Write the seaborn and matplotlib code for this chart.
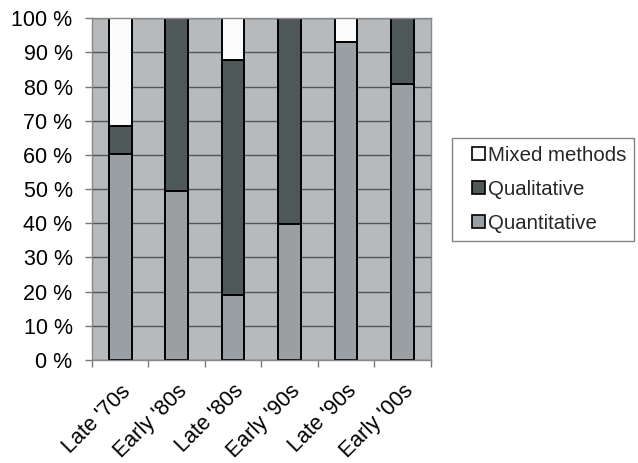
import matplotlib
matplotlib.use("Agg")
import matplotlib.pyplot as plt
import matplotlib.transforms as mtransforms
import seaborn as sns
import numpy as np
import pandas as pd
from matplotlib.patches import Patch, Rectangle
from matplotlib.legend_handler import HandlerPatch
from matplotlib.ticker import FixedLocator

categories = ["Late '70s", "Early '80s", "Late '80s", "Early '90s", "Late '90s", "Early '00s"]
quantitative = [60.2, 49.5, 19.0, 39.7, 93.2, 80.8]
qualitative = [8.4, 50.5, 68.7, 60.3, 0.0, 19.2]
mixed = [31.4, 0.0, 12.3, 0.0, 6.8, 0.0]
series_names = ["Mixed methods", "Qualitative", "Quantitative"]
y_ticks = [0, 10, 20, 30, 40, 50, 60, 70, 80, 90, 100]

sns.set_theme(style="white")
plt.rcParams["font.family"] = ["Liberation Sans", "DejaVu Sans"]

c_quant = "#999fa2"
c_qual = "#4f5858"
c_mixed = "#fbfbfb"
c_bg = "#b6babc"

df = pd.DataFrame({
    "cat": categories,
    "quant": quantitative,
    "qual": qualitative,
    "mixed": mixed,
})
df["top_qual"] = df["quant"] + df["qual"]
df["top_all"] = df["top_qual"] + df["mixed"]

fig = plt.figure(figsize=(6.38, 4.63), dpi=100)
ax = fig.add_axes([0.1442, 0.2225, 0.675 - 0.1442, 0.9605 - 0.2225])
ax.set_facecolor(c_bg)

for y in y_ticks:
    ax.axhline(y, color="#555555", lw=1.0, zorder=0.5)

common = dict(data=df, x="cat", width=0.4, edgecolor="black", linewidth=1.4, ax=ax, zorder=2)
sns.barplot(y="top_all", color=c_mixed, **common)
sns.barplot(y="top_qual", color=c_qual, **common)
sns.barplot(y="quant", color=c_quant, **common)

for i, p in enumerate(ax.patches):
    grp = i // len(categories)
    p.set_facecolor([c_mixed, c_qual, c_quant][grp])

ax.set_xlim(-0.5, len(categories) - 0.5)
ax.set_ylim(0, 100)
ax.set_yticks(y_ticks)
ax.set_yticklabels([f"{v} %" for v in y_ticks], fontsize=15.5, color="black")
ax.set_xlabel("")
ax.set_ylabel("")
ax.set_xticks(range(len(categories)))
ax.set_xticklabels(categories, rotation=45, ha="right", rotation_mode="anchor",
                   fontsize=15.5, color="black")
offset = mtransforms.ScaledTranslation(6 / 100, 0, fig.dpi_scale_trans)
for lab in ax.get_xticklabels():
    lab.set_transform(lab.get_transform() + offset)
ax.xaxis.set_minor_locator(FixedLocator(np.arange(-0.5, len(categories), 1.0)))
ax.tick_params(axis="x", which="major", length=0, pad=15)
ax.tick_params(axis="x", which="minor", length=5, width=1, color="#777777", bottom=True)
ax.tick_params(axis="y", which="major", length=5, width=1, color="#777777", left=True, pad=9)

for s in ax.spines.values():
    s.set_color("#888888")
    s.set_linewidth(1.0)


class SquareRight(HandlerPatch):
    def create_artists(self, legend, orig_handle, xdescent, ydescent, width, height, fontsize, trans):
        side = height
        r = Rectangle((-xdescent + width - side, -ydescent), side, side,
                      facecolor=orig_handle.get_facecolor(), edgecolor="black", linewidth=1.2)
        r.set_transform(trans)
        return [r]


handles = [Patch(facecolor=c, edgecolor="black", linewidth=1.2) for c in [c_mixed, c_qual, c_quant]]
leg = fig.legend(handles, series_names, loc="upper left",
                 bbox_to_anchor=(452 / 638, 1 - 138 / 463), bbox_transform=fig.transFigure,
                 frameon=True, fancybox=False, fontsize=14.7, handlelength=1.2, handleheight=0.6,
                 handletextpad=0.15, labelspacing=0.72, borderpad=0.4, borderaxespad=0,
                 handler_map={Patch: SquareRight()})
leg.get_frame().set_edgecolor("#666666")
leg.get_frame().set_linewidth(1.0)

fig.savefig("out.png", dpi=100)
